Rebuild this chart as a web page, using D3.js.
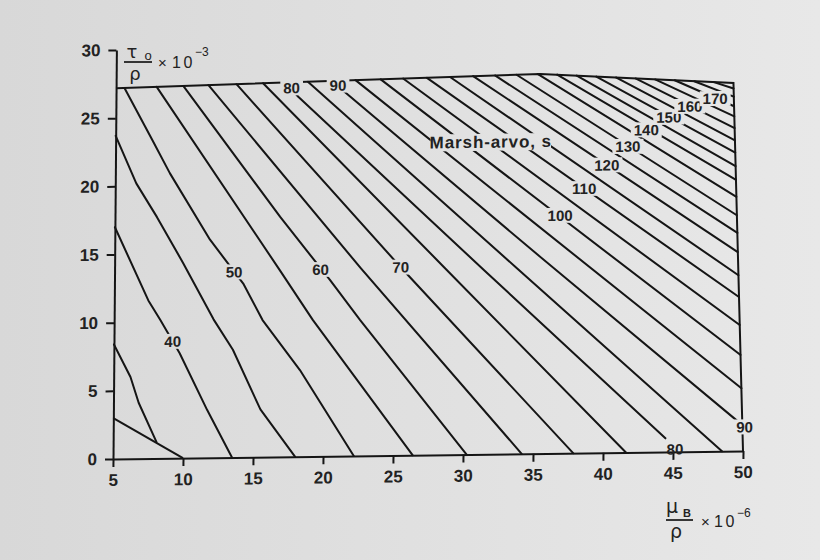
<!DOCTYPE html>
<html>
<head>
<meta charset="utf-8">
<script src="https://cdn.jsdelivr.net/npm/d3@7"></script>
<style>
  body { margin: 0; background: #e0e0e0; }
  svg { display: block; }
  text { font-family: "Liberation Sans", Arial, sans-serif; fill: #222; }
  .greek { font-family: "DejaVu Sans", sans-serif; }
</style>
</head>
<body>
<svg id="chart" width="820" height="560"></svg>
<script>
// axis ticks
const xTicks = [5, 10, 15, 20, 25, 30, 35, 40, 45, 50];
const yTicks = [0, 5, 10, 15, 20, 25, 30];

// Marsh funnel time levels (s) and the traced lines, points are [muB/rho, tau0/rho]
const levels = [35, 40, 45, 50, 55, 60, 65, 70, 75, 80, 85, 90, 95, 100, 105, 110,
                115, 120, 125, 130, 135, 140, 145, 150, 155, 160, 165, 170, 175, 180];
const contours = [
  [[5, 8.4], [6.2, 6.0], [6.8, 4.1], [8.1, 1.2]],
  [[5, 17.0], [7.43, 11.6], [8.3, 10.15], [9.7, 7.7], [11.7, 3.5], [13.5, 0]],
  [[5, 23.7], [6.5, 20.2], [8.0, 17.7], [9.9, 14.3], [12.1, 10.15], [13.5, 7.9], [15.5, 3.5], [18.0, 0]],
  [[5.6, 27.21], [7.6, 23.4], [8.9, 20.9], [11.8, 16.0], [14.2, 12.75], [15.6, 10.05], [18.3, 6.35], [22.2, 0]],
  [[7.9, 27.26], [16.8, 13.7], [19.2, 10.0], [26.4, 0]],
  [[9.8, 27.3], [16.8, 17.6], [20.39, 12.93], [22.56, 9.97], [30.26, 0]],
  [[11.6, 27.34], [22.6, 13.75], [34.19, 0]],
  [[13.6, 27.38], [25.44, 13.8], [37.87, 0]],
  [[15.5, 27.43], [28.5, 13.8], [41.64, 0]],
  [[17.1, 27.46], [18.02, 26.4], [31.4, 13.5], [44.45, 1.0]],
  [[18.7, 27.49], [33.6, 13.75], [48.5, 0]],
  [[20.4, 27.53], [35.2, 14.6], [49.94, 1.9]],
  [[22.1, 27.57], [49.85, 4.6]],
  [[23.9, 27.6], [49.77, 7.05]],
  [[25.5, 27.64], [49.69, 9.25]],
  [[27.2, 27.67], [49.62, 11.3]],
  [[28.85, 27.71], [49.57, 12.9]],
  [[30.5, 27.75], [49.51, 14.6]],
  [[32.06, 27.78], [49.47, 16.0]],
  [[33.6, 27.81], [49.42, 17.3]],
  [[35.1, 27.85], [49.38, 18.65]],
  [[36.5, 27.78], [49.34, 19.9]],
  [[37.9, 27.69], [49.3, 20.9]],
  [[39.3, 27.6], [49.27, 21.9]],
  [[40.7, 27.52], [49.24, 22.8]],
  [[42.1, 27.43], [49.21, 23.7]],
  [[43.5, 27.34], [49.18, 24.55]],
  [[44.9, 27.26], [49.16, 25.3]],
  [[46.3, 27.17], [49.13, 26.0]],
  [[47.7, 27.09], [49.11, 26.6]]
];

// edge of the chart area (top + right side) and the low limit line in the corner
const border = [[5, 27.2], [35.3, 27.85], [49.1, 27.0], [50, 0]];
const lowLimit = [[5, 3.0], [10, 0]];

// contour labels
const labelText = ["40", "50", "60", "70", "80", "80", "90", "90", "100", "110", "120", "130", "140", "150", "160", "170"];
const labelX = [9.2, 13.54, 19.72, 25.44, 17.54, 45.14, 20.85, 50.1, 36.8, 38.5, 40.1, 41.6, 42.9, 44.5, 46.0, 47.8];
const labelY = [8.57, 13.6, 13.7, 13.8, 27.05, 0.2, 27.2, 1.76, 17.45, 19.4, 21.1, 22.45, 23.65, 24.55, 25.33, 25.88];

const svg = d3.select("#chart");

const grad = svg.append("defs").append("linearGradient")
  .attr("id", "paper")
  .attr("gradientUnits", "userSpaceOnUse")
  .attr("x1", 0).attr("x2", 820).attr("y1", 0).attr("y2", 0);
grad.append("stop").attr("offset", 0).attr("stop-color", "#d8d8d8");
grad.append("stop").attr("offset", 1).attr("stop-color", "#e8e8e8");

svg.append("rect").attr("width", 820).attr("height", 560).attr("fill", "url(#paper)");

// the scanned page is a bit skewed: x axis climbs to the right, y axis leans right
const g = svg.append("g").attr("transform", "matrix(1,-0.0127,-0.0083,1,3.81,1.435)");

const x = d3.scaleLinear().domain([5, 50]).range([113, 743]);
const y = d3.scaleLinear().domain([0, 30]).range([459, 50]);

const line = d3.line()
  .x(function(d) { return x(d[0]); })
  .y(function(d) { return y(d[1]); });

// axes
g.append("g")
  .attr("class", "axis")
  .attr("transform", `translate(0,${y(0)})`)
  .call(d3.axisBottom(x).tickValues(xTicks).tickSize(8).tickSizeOuter(0).tickPadding(7));

g.append("g")
  .attr("class", "axis")
  .attr("transform", `translate(${x(5)},0)`)
  .call(d3.axisLeft(y).tickValues(yTicks).tickSize(8).tickSizeOuter(0).tickPadding(8));

g.selectAll(".axis").attr("font-size", 17).attr("font-weight", "bold");
g.selectAll(".axis path, .axis line").attr("stroke", "#151515").attr("stroke-width", 2);

// region border + contours
g.append("path")
  .attr("d", line(border))
  .attr("fill", "none")
  .attr("stroke", "#151515")
  .attr("stroke-width", 2);

g.append("path")
  .attr("d", line(lowLimit))
  .attr("fill", "none")
  .attr("stroke", "#151515")
  .attr("stroke-width", 2);

g.append("g")
  .selectAll("path")
  .data(contours)
  .enter()
  .append("path")
    .attr("class", function(d, i) { return "c" + levels[i]; })
    .attr("d", line)
    .attr("fill", "none")
    .attr("stroke", "#151515")
    .attr("stroke-width", 2)
    .attr("stroke-linejoin", "round")
    .attr("stroke-linecap", "round");

// labels sit in a gap cut out of the lines
function addLabel(parent, txt, px, py, size, pad, masked) {
  const cell = parent.append("g");
  const t = cell.append("text")
    .attr("x", px).attr("y", py)
    .attr("dy", "0.36em")
    .attr("text-anchor", "middle")
    .attr("font-size", size)
    .attr("font-weight", "bold")
    .text(txt);
  if (masked) {
    const b = t.node().getBBox();
    cell.insert("rect", "text")
      .attr("x", b.x - pad).attr("y", b.y + 1)
      .attr("width", b.width + pad * 2).attr("height", b.height - 2)
      .attr("fill", "url(#paper)");
  }
  return t;
}

const labels = g.append("g");
labelText.forEach(function(t, i) {
  // the "80" at the bottom is written over the axis line
  addLabel(labels, t, x(labelX[i]), y(labelY[i]), 15, 3, labelY[i] > 0.5);
});

addLabel(labels, "Marsh-arvo, s", x(31.8), y(22.93), 17, 5, true)
  .attr("letter-spacing", 0.9);

// axis titles
const tt = svg.append("g");
tt.append("text").attr("class", "greek").attr("x", 132).attr("y", 57.5).attr("font-size", 18)
  .attr("text-anchor", "middle").text("τ");
tt.append("text").attr("x", 148).attr("y", 60).attr("font-size", 13).attr("text-anchor", "middle").text("o");
tt.append("line").attr("x1", 124).attr("x2", 152).attr("y1", 62).attr("y2", 62)
  .attr("stroke", "#222").attr("stroke-width", 1.8);
tt.append("text").attr("class", "greek").attr("x", 135).attr("y", 79.5).attr("font-size", 18)
  .attr("text-anchor", "middle").text("ρ");
tt.append("text").attr("x", 158).attr("y", 68).attr("font-size", 15).text("×");
tt.append("text").attr("x", 172).attr("y", 68).attr("font-size", 16).attr("letter-spacing", 2.5).text("10");
tt.append("text").attr("x", 195).attr("y", 56).attr("font-size", 12).text("−3");

tt.append("text").attr("class", "greek").attr("x", 672).attr("y", 512.5).attr("font-size", 19)
  .attr("text-anchor", "middle").text("μ");
tt.append("text").attr("x", 687).attr("y", 517).attr("font-size", 11).attr("font-weight", "bold")
  .attr("text-anchor", "middle").text("B");
tt.append("line").attr("x1", 666).attr("x2", 693).attr("y1", 520).attr("y2", 520)
  .attr("stroke", "#222").attr("stroke-width", 1.8);
tt.append("text").attr("class", "greek").attr("x", 676).attr("y", 537.5).attr("font-size", 19)
  .attr("text-anchor", "middle").text("ρ");
tt.append("text").attr("x", 701).attr("y", 527).attr("font-size", 15).text("×");
tt.append("text").attr("x", 714).attr("y", 527).attr("font-size", 16).attr("letter-spacing", 2.5).text("10");
tt.append("text").attr("x", 737).attr("y", 516.5).attr("font-size", 12).text("−6");
</script>
</body>
</html>
